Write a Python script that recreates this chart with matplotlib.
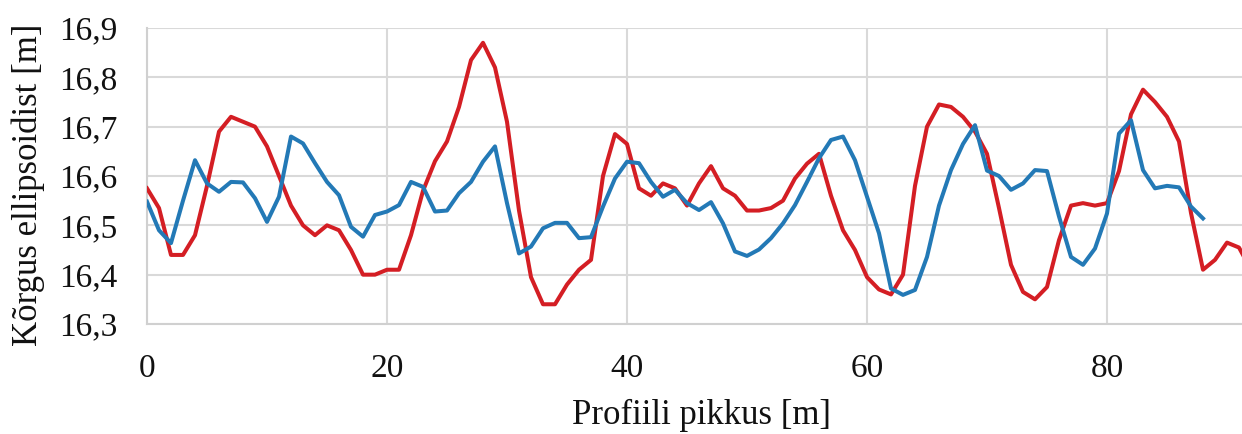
import numpy as np
import matplotlib.pyplot as plt

# profile heights [m], one point per metre
red_heights = [16.575, 16.535, 16.44, 16.44, 16.48, 16.58, 16.69, 16.72, 16.71, 16.70,
               16.66, 16.60, 16.54, 16.50, 16.48, 16.50, 16.49, 16.45, 16.40, 16.40,
               16.41, 16.41, 16.48, 16.57, 16.63, 16.67, 16.74, 16.835, 16.87, 16.82,
               16.71, 16.53, 16.395, 16.34, 16.34, 16.38, 16.41, 16.43, 16.60, 16.685,
               16.665, 16.575, 16.56, 16.585, 16.575, 16.54, 16.585, 16.62, 16.575, 16.56,
               16.53, 16.53, 16.535, 16.55, 16.595, 16.625, 16.645, 16.56, 16.49, 16.45,
               16.395, 16.37, 16.36, 16.40, 16.58, 16.70, 16.745, 16.74, 16.72, 16.69,
               16.645, 16.535, 16.42, 16.365, 16.35, 16.375, 16.47, 16.54, 16.545, 16.54,
               16.545, 16.61, 16.725, 16.775, 16.75, 16.72, 16.67, 16.525, 16.41, 16.43,
               16.465, 16.455, 16.41]

blue_heights = [16.548, 16.49, 16.464, 16.55, 16.632, 16.585, 16.568, 16.588, 16.587, 16.555,
                16.507, 16.558, 16.68, 16.666, 16.626, 16.588, 16.561, 16.497, 16.477, 16.521,
                16.528, 16.541, 16.588, 16.578, 16.528, 16.53, 16.565, 16.588, 16.629, 16.66,
                16.545, 16.443, 16.457, 16.494, 16.505, 16.505, 16.474, 16.476, 16.538, 16.595,
                16.629, 16.626, 16.588, 16.558, 16.572, 16.545, 16.531, 16.547, 16.504, 16.447,
                16.438, 16.451, 16.474, 16.504, 16.541, 16.588, 16.636, 16.673, 16.68, 16.632,
                16.558, 16.484, 16.372, 16.359, 16.369, 16.436, 16.54, 16.612, 16.665, 16.703,
                16.611, 16.6, 16.572, 16.585, 16.612, 16.61, 16.518, 16.436, 16.42, 16.453,
                16.524, 16.686, 16.713, 16.612, 16.575, 16.58, 16.577, 16.538, 16.514]

red_x = np.arange(len(red_heights))
blue_x = np.arange(len(blue_heights))

y_ticks = [16.3, 16.4, 16.5, 16.6, 16.7, 16.8, 16.9]
y_tick_labels = ["16,3", "16,4", "16,5", "16,6", "16,7", "16,8", "16,9"]
x_ticks = [0, 20, 40, 60, 80]
x_tick_labels = ["0", "20", "40", "60", "80"]

plt.rcParams['font.family'] = ['Liberation Serif', 'DejaVu Serif']

W, H = 1242, 434
fig = plt.figure(figsize=(W / 100, H / 100), dpi=100)
ax = fig.add_axes([147 / W, 1 - 324 / H, 1110 / W, 296 / H])

ax.plot(red_x, red_heights, color='#d41e24', linewidth=2.9, solid_joinstyle='round', zorder=3)
ax.plot(blue_x, blue_heights, color='#2379b6', linewidth=2.9, solid_joinstyle='round', zorder=4)

ax.set_xlim(0, 92.5)
ax.set_ylim(16.3, 16.9)
ax.set_yticks(y_ticks)
ax.set_yticklabels(y_tick_labels)
ax.set_xticks(x_ticks)
ax.set_xticklabels(x_tick_labels)
ax.tick_params(axis='both', length=0, labelsize=24, colors='#111111')
ax.tick_params(axis='y', pad=21)
ax.tick_params(axis='x', pad=21)

ax.grid(True, color='#d9d9d9', linewidth=1.5)
ax.set_axisbelow(True)
for side in ['top', 'right']:
    ax.spines[side].set_visible(False)
for side in ['left', 'bottom']:
    ax.spines[side].set_color('#d0d0d0')
    ax.spines[side].set_linewidth(1.5)

ax.set_xlabel("Profiili pikkus [m]", fontsize=25, color='#111111', labelpad=11)
fig.text(28 / W, 1 - 185 / H, "Kõrgus ellipsoidist [m]", rotation=90,
         ha='center', va='center', fontsize=25, color='#111111')

fig.savefig("out.png", dpi=100)
